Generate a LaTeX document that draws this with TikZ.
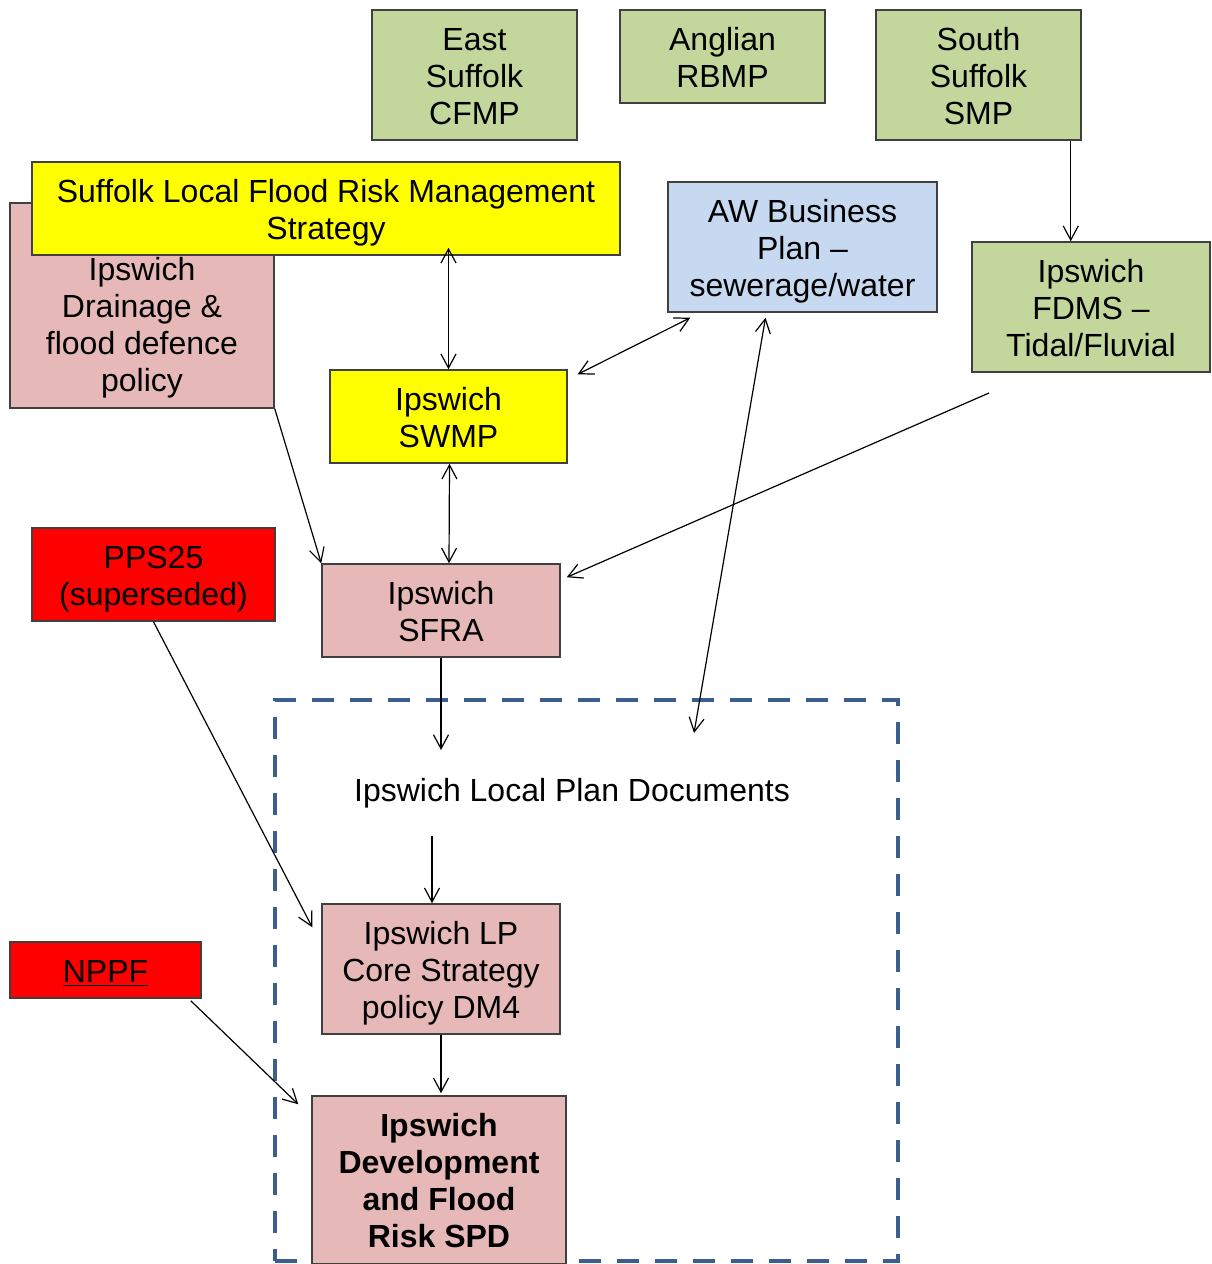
\documentclass[tikz,border=0pt]{standalone}
\usepackage{fontspec}
\setmainfont{Liberation Sans}
\usetikzlibrary{arrows.meta}
\definecolor{gfill}{HTML}{C3D69B}
\definecolor{yfill}{HTML}{FFFF00}
\definecolor{pfill}{HTML}{E6B9B8}
\definecolor{bfill}{HTML}{C6D9F1}
\definecolor{rfill}{HTML}{FF0000}
\definecolor{bord}{HTML}{404040}
\definecolor{dashblue}{HTML}{3A5F8E}
\newcommand{\mlines}[1]{\raisebox{-2.5pt}[\height][\depth]{\begin{tabular}{@{}c@{}}#1\end{tabular}}}
\tikzset{
  box/.style={draw=bord, line width=0.75pt, inner sep=0pt,
    font=\fontsize{16}{18.5}\selectfont},
  txt/.style={align=center, inner sep=0pt, font=\fontsize{16}{18.5}\selectfont},
  arr/.style={draw=black, line width=0.6pt, -{Straight Barb[length=7pt,width=7.5pt]}},
  dbl/.style={draw=black, line width=0.6pt, {Straight Barb[length=7pt,width=7.5pt]}-{Straight Barb[length=7pt,width=7.5pt]}},
  grp/.style={draw=dashblue, line width=2pt, dash pattern=on 11pt off 8pt, inner sep=0pt}
}
\begin{document}
\begin{tikzpicture}[x=0.5pt,y=-0.5pt]
\useasboundingbox (0,0) rectangle (1211,1264);
% top green boxes
\node[box, fill=gfill, minimum width=102.5pt, minimum height=65pt] (cfmp) at (474.5,75) {\mlines{East\\Suffolk\\CFMP}};
\node[box, fill=gfill, minimum width=102.5pt, minimum height=46.5pt] (rbmp) at (722.5,56.5) {\mlines{Anglian\\RBMP}};
\node[box, fill=gfill, minimum width=102.5pt, minimum height=65pt] (smp) at (978.5,75) {\mlines{South\\Suffolk\\SMP}};
% drainage box (behind yellow)
\node[box, fill=pfill, minimum width=132pt, minimum height=102.5pt] (drain) at (142,305.5) {};
\node[txt] (draintxt) at (142,328) {Ipswich\\Drainage \&\\flood defence\\policy};
\node[box, fill=yfill, minimum width=294pt, minimum height=46.5pt] (lfrms) at (326,208.5) {\mlines{Suffolk Local Flood Risk Management\\Strategy}};
\node[box, fill=bfill, minimum width=134.5pt, minimum height=65pt] (aw) at (802.5,247) {\mlines{AW Business\\Plan --\\sewerage/water}};
\node[box, fill=gfill, minimum width=119pt, minimum height=65pt] (fdms) at (1091,307) {\mlines{Ipswich\\FDMS --\\Tidal/Fluvial}};
\node[box, fill=yfill, minimum width=118.5pt, minimum height=46.5pt] (swmp) at (448.5,416.5) {\mlines{Ipswich\\SWMP}};
\node[box, fill=rfill, minimum width=121.5pt, minimum height=46.5pt] (pps) at (153.5,574.5) {\mlines{PPS25\\(superseded)}};
\node[box, fill=pfill, minimum width=119pt, minimum height=46.5pt] (sfra) at (441,610.5) {\mlines{Ipswich\\SFRA}};
% group
\node[grp, minimum width=311.5pt, minimum height=280.5pt] (lpd) at (586.5,980.5) {};
\node[txt] (lpdtxt) at (572,793.5) {Ipswich Local Plan Documents};
\node[box, fill=pfill, minimum width=119pt, minimum height=65pt] (core) at (441,969) {\mlines{Ipswich LP\\Core Strategy\\policy DM4}};
\node[box, fill=rfill, minimum width=95.5pt, minimum height=28pt] (nppf) at (105.5,970) {\mlines{\underline{NPPF}}};
\node[box, fill=pfill, minimum width=127pt, minimum height=84pt, font=\fontsize{16}{18.5}\selectfont\bfseries] (spd) at (439,1180) {\mlines{Ipswich\\Development\\and Flood\\Risk SPD}};
% free ends
\coordinate (fdmsout) at (989,393);
\coordinate (lpdin) at (441,750);
\coordinate (awin) at (694,733);
\coordinate (lpdout) at (432,836);
% connectors
\draw[arr] ([xshift=-5.5pt]smp.south east) -- ([xshift=-5.5pt]smp.south east |- fdms.north);
\draw[dbl] ([yshift=4pt]swmp.north |- lfrms.south) -- (swmp.north);
\draw[dbl] ([shift={(10,5)}]swmp.north east) -- ([shift={(23,5)}]aw.south west);
\draw[dbl] ([shift={(-37,5)}]aw.south) -- (awin);
\draw[arr] (fdmsout) -- ([shift={(6,14)}]sfra.north east);
\draw[arr] (drain.south east) -- (sfra.north west);
\draw[dbl] ([xshift=0.5pt]swmp.south) -- ([xshift=4pt]sfra.north);
\draw[arr] (sfra.south) -- (lpdin);
\draw[arr] (lpdout) -- ([xshift=-4.5pt]core.north);
\draw[arr] (pps.south) -- ([shift={(-9,24)}]core.north west);
\draw[arr] (core.south) -- ([yshift=1pt]core.south |- spd.north);
\draw[arr] ([shift={(-11,2)}]nppf.south east) -- ([shift={(-13,9)}]spd.north west);
\end{tikzpicture}
\end{document}
